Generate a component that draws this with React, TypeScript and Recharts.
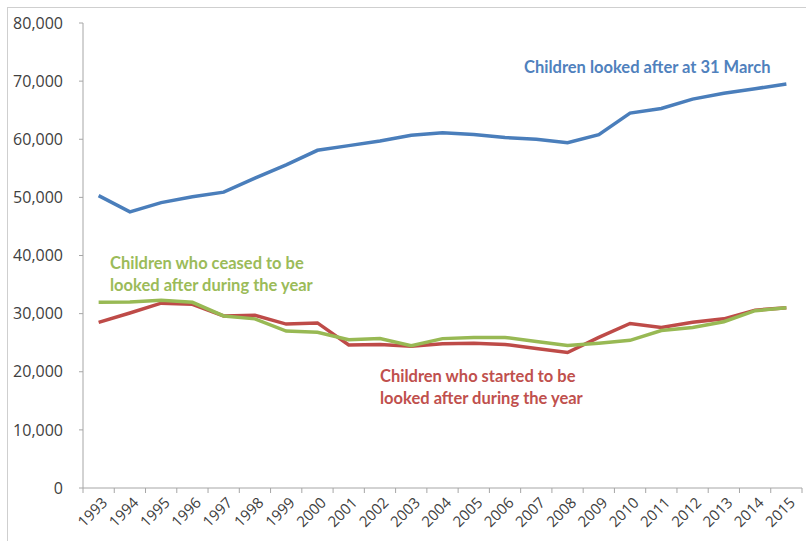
import { LineChart, Line, XAxis, YAxis } from "recharts";

const years = [
  "1993", "1994", "1995", "1996", "1997", "1998", "1999", "2000", "2001", "2002", "2003", "2004",
  "2005", "2006", "2007", "2008", "2009", "2010", "2011", "2012", "2013", "2014", "2015",
];

const lookedAfter = [
  50300, 47500, 49100, 50100, 50900, 53300, 55600, 58100, 58900, 59700, 60700, 61100,
  60800, 60300, 60000, 59400, 60800, 64500, 65300, 66900, 67900, 68700, 69500,
];

const ceased = [
  31950, 32000, 32300, 31950, 29600, 29100, 27000, 26800, 25500, 25700, 24500, 25700,
  25900, 25900, 25200, 24500, 24900, 25400, 27100, 27600, 28600, 30500, 31000,
];

const started = [
  28500, 30100, 31800, 31600, 29600, 29700, 28200, 28400, 24600, 24700, 24400, 24800,
  24900, 24700, 24000, 23300, 25900, 28300, 27600, 28500, 29100, 30600, 31000,
];

const yTicks = [0, 10000, 20000, 30000, 40000, 50000, 60000, 70000, 80000];

const data = years.map((year, i) => ({
  year,
  lookedAfter: lookedAfter[i],
  ceased: ceased[i],
  started: started[i],
}));

const TICK_FONT = "'Open Sans', sans-serif";
const NOTE_FONT = "Lato, 'Open Sans', sans-serif";
const HALF_BAND = 719 / 23 / 2;

const YearTick = (props: any) => {
  const { x, y, payload, index } = props;
  const last = index === years.length - 1;
  return (
    <g>
      <line x1={x - HALF_BAND} x2={x - HALF_BAND} y1={y} y2={y + 5} stroke="#a6a6a6" />
      {last && <line x1={x + HALF_BAND} x2={x + HALF_BAND} y1={y} y2={y + 5} stroke="#a6a6a6" />}
      <text
        transform={`translate(${x + 6},${y + 12}) rotate(-45)`}
        textAnchor="end"
        dy="0.35em"
        fontSize={15}
        fontFamily={TICK_FONT}
        fill="#404040"
      >
        {payload.value}
      </text>
    </g>
  );
};

export default function App() {
  return (
    <div style={{ position: "absolute", left: 0, top: 0, width: 806, height: 541, background: "#fff" }}>
      <div
        style={{
          position: "absolute",
          left: 7,
          top: 7,
          width: 799,
          height: 534,
          borderTop: "1px solid #cfcfcf",
          borderLeft: "1px solid #cfcfcf",
        }}
      />
      <div style={{ position: "absolute", left: 0, top: 0 }}>
        <LineChart width={806} height={541} data={data} margin={{ top: 23, right: 4, bottom: 0, left: 0 }}>
          <XAxis
            dataKey="year"
            height={53}
            padding={{ left: HALF_BAND, right: HALF_BAND }}
            axisLine={{ stroke: "#a6a6a6" }}
            tickLine={false}
            tickSize={0}
            tickMargin={0}
            interval={0}
            tick={<YearTick />}
          />
          <YAxis
            width={83}
            domain={[0, 80000]}
            ticks={yTicks}
            interval={0}
            axisLine={{ stroke: "#a6a6a6" }}
            tickLine={{ stroke: "#a6a6a6" }}
            tickSize={4}
            tickMargin={16}
            tickFormatter={(v: number) => v.toLocaleString("en-GB")}
            tick={{ fontSize: 16, fontFamily: TICK_FONT, fill: "#404040" }}
          />
          <Line
            dataKey="lookedAfter"
            type="linear"
            stroke="#4a7ebb"
            strokeWidth={3.5}
            dot={false}
            isAnimationActive={false}
          />
          <Line
            dataKey="started"
            type="linear"
            stroke="#be4b48"
            strokeWidth={3.5}
            dot={false}
            isAnimationActive={false}
          />
          <Line
            dataKey="ceased"
            type="linear"
            stroke="#98b954"
            strokeWidth={3.5}
            dot={false}
            isAnimationActive={false}
          />
        </LineChart>
      </div>
      <svg
        width={806}
        height={541}
        style={{ position: "absolute", left: 0, top: 0, pointerEvents: "none" }}
        fontFamily={NOTE_FONT}
        fontWeight="bold"
        fontSize={16.5}
      >
        <text x={524} y={72.5} fill="#4f81bd">Children looked after at 31 March</text>
        <text x={110} y={268.5} fill="#9bbb59">Children who ceased to be</text>
        <text x={110} y={291} fill="#9bbb59">looked after during the year</text>
        <text x={380} y={382} fill="#c0504d">Children who started to be</text>
        <text x={380} y={403.5} fill="#c0504d">looked after during the year</text>
      </svg>
    </div>
  );
}
